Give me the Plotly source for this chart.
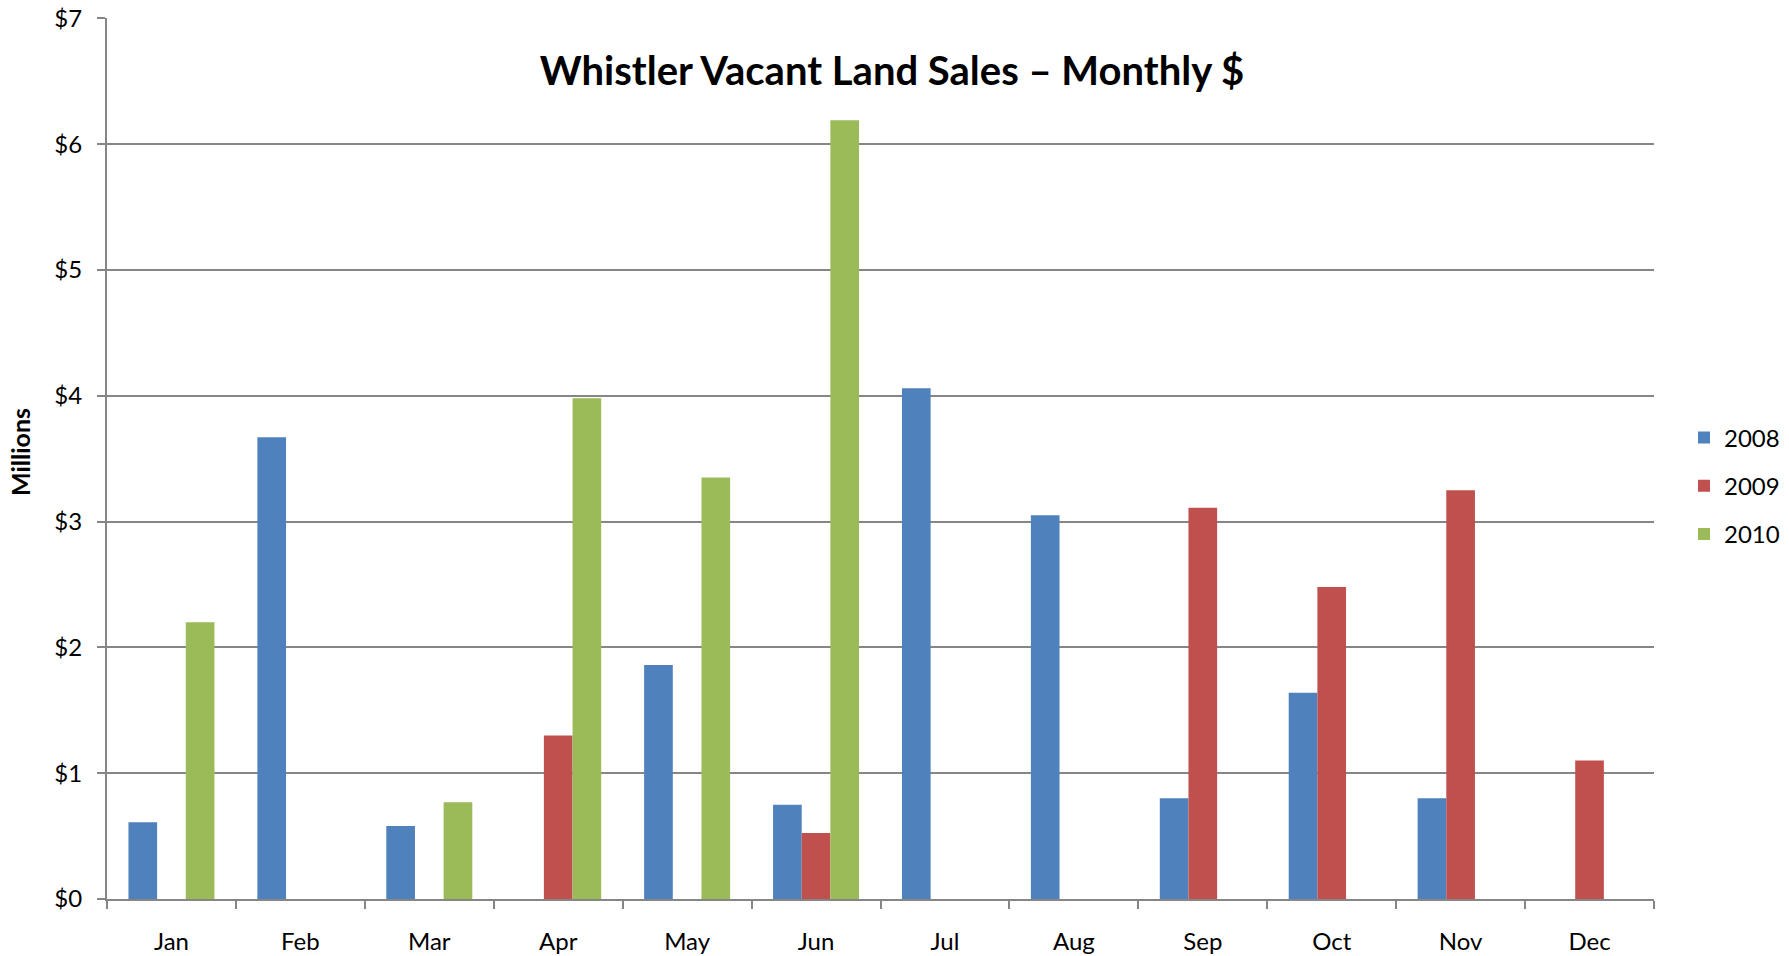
import plotly.graph_objects as go

months = ["Jan", "Feb", "Mar", "Apr", "May", "Jun", "Jul", "Aug", "Sep", "Oct", "Nov", "Dec"]
sales_2008 = [0.61, 3.67, 0.58, None, 1.86, 0.75, 4.06, 3.05, 0.80, 1.64, 0.80, None]
sales_2009 = [None, None, None, 1.30, None, 0.525, None, None, 3.11, 2.48, 3.25, 1.10]
sales_2010 = [2.20, None, 0.77, 3.98, 3.35, 6.19, None, None, None, None, None, None]
y_ticks = [0, 1, 2, 3, 4, 5, 6, 7]
y_labels = ["$0", "$1", "$2", "$3", "$4", "$5", "$6", "$7"]

FONT = "Lato"
W, H = 1789, 956
L, R, T, B = 107, 135, 18, 57
PW = W - L - R
PH = H - T - B

def px_x(x):  # screen x -> paper x
    return (x - L) / PW

def px_y(y):  # screen y -> paper y
    return (H - B - y) / PH

fig = go.Figure()
for name, vals, col in [("2008", sales_2008, "#4F81BD"),
                        ("2009", sales_2009, "#C0504D"),
                        ("2010", sales_2010, "#9BBB59")]:
    fig.add_trace(go.Bar(name=name, x=months, y=vals, marker_color=col,
                         marker_line_width=0, legendgroup=name))

fig.update_layout(
    width=W, height=H,
    paper_bgcolor="white", plot_bgcolor="white",
    margin=dict(l=L, r=R, t=T, b=B, autoexpand=False),
    barmode="group", bargap=0.333, bargroupgap=0,
    font=dict(family=FONT, size=24, color="black"),
    title=dict(text="<b>Whistler Vacant Land Sales – Monthly $</b>",
               x=892 / W, xanchor="center", y=1 - 71 / H, yanchor="middle",
               font=dict(family=FONT, size=40, color="black")),
    legend=dict(x=px_x(1684), xanchor="left", y=px_y(486), yanchor="middle",
                font=dict(family=FONT, size=24), tracegroupgap=14,
                bgcolor="rgba(0,0,0,0)"),
    showlegend=True,
)
fig.update_xaxes(
    showline=True, linecolor="#868686", linewidth=2, automargin=False,
    ticks="outside", tickson="boundaries", ticklen=8, tickcolor="#868686", tickwidth=2,
    tickfont=dict(family=FONT, size=24), showgrid=False, ticklabelstandoff=20,
)
fig.update_yaxes(
    range=[0, 7.003], tickvals=y_ticks, ticktext=y_labels, automargin=False,
    showline=True, linecolor="#868686", linewidth=2,
    ticks="outside", ticklen=8, tickcolor="#868686", tickwidth=2,
    showgrid=True, gridcolor="#868686", gridwidth=2, ticklabeloverflow="allow",
    tickfont=dict(family=FONT, size=24), zeroline=False, ticklabelstandoff=10,
)
fig.add_annotation(
    text="<b>Millions</b>", textangle=-90, showarrow=False,
    xref="paper", yref="paper", x=px_x(20), y=px_y(452),
    xanchor="center", yanchor="middle", font=dict(family=FONT, size=25),
)
fig.write_html(
    "out.html",
    config={"displayModeBar": False},
    post_script="document.body.style.margin='0';document.body.style.overflow='hidden';",
)
